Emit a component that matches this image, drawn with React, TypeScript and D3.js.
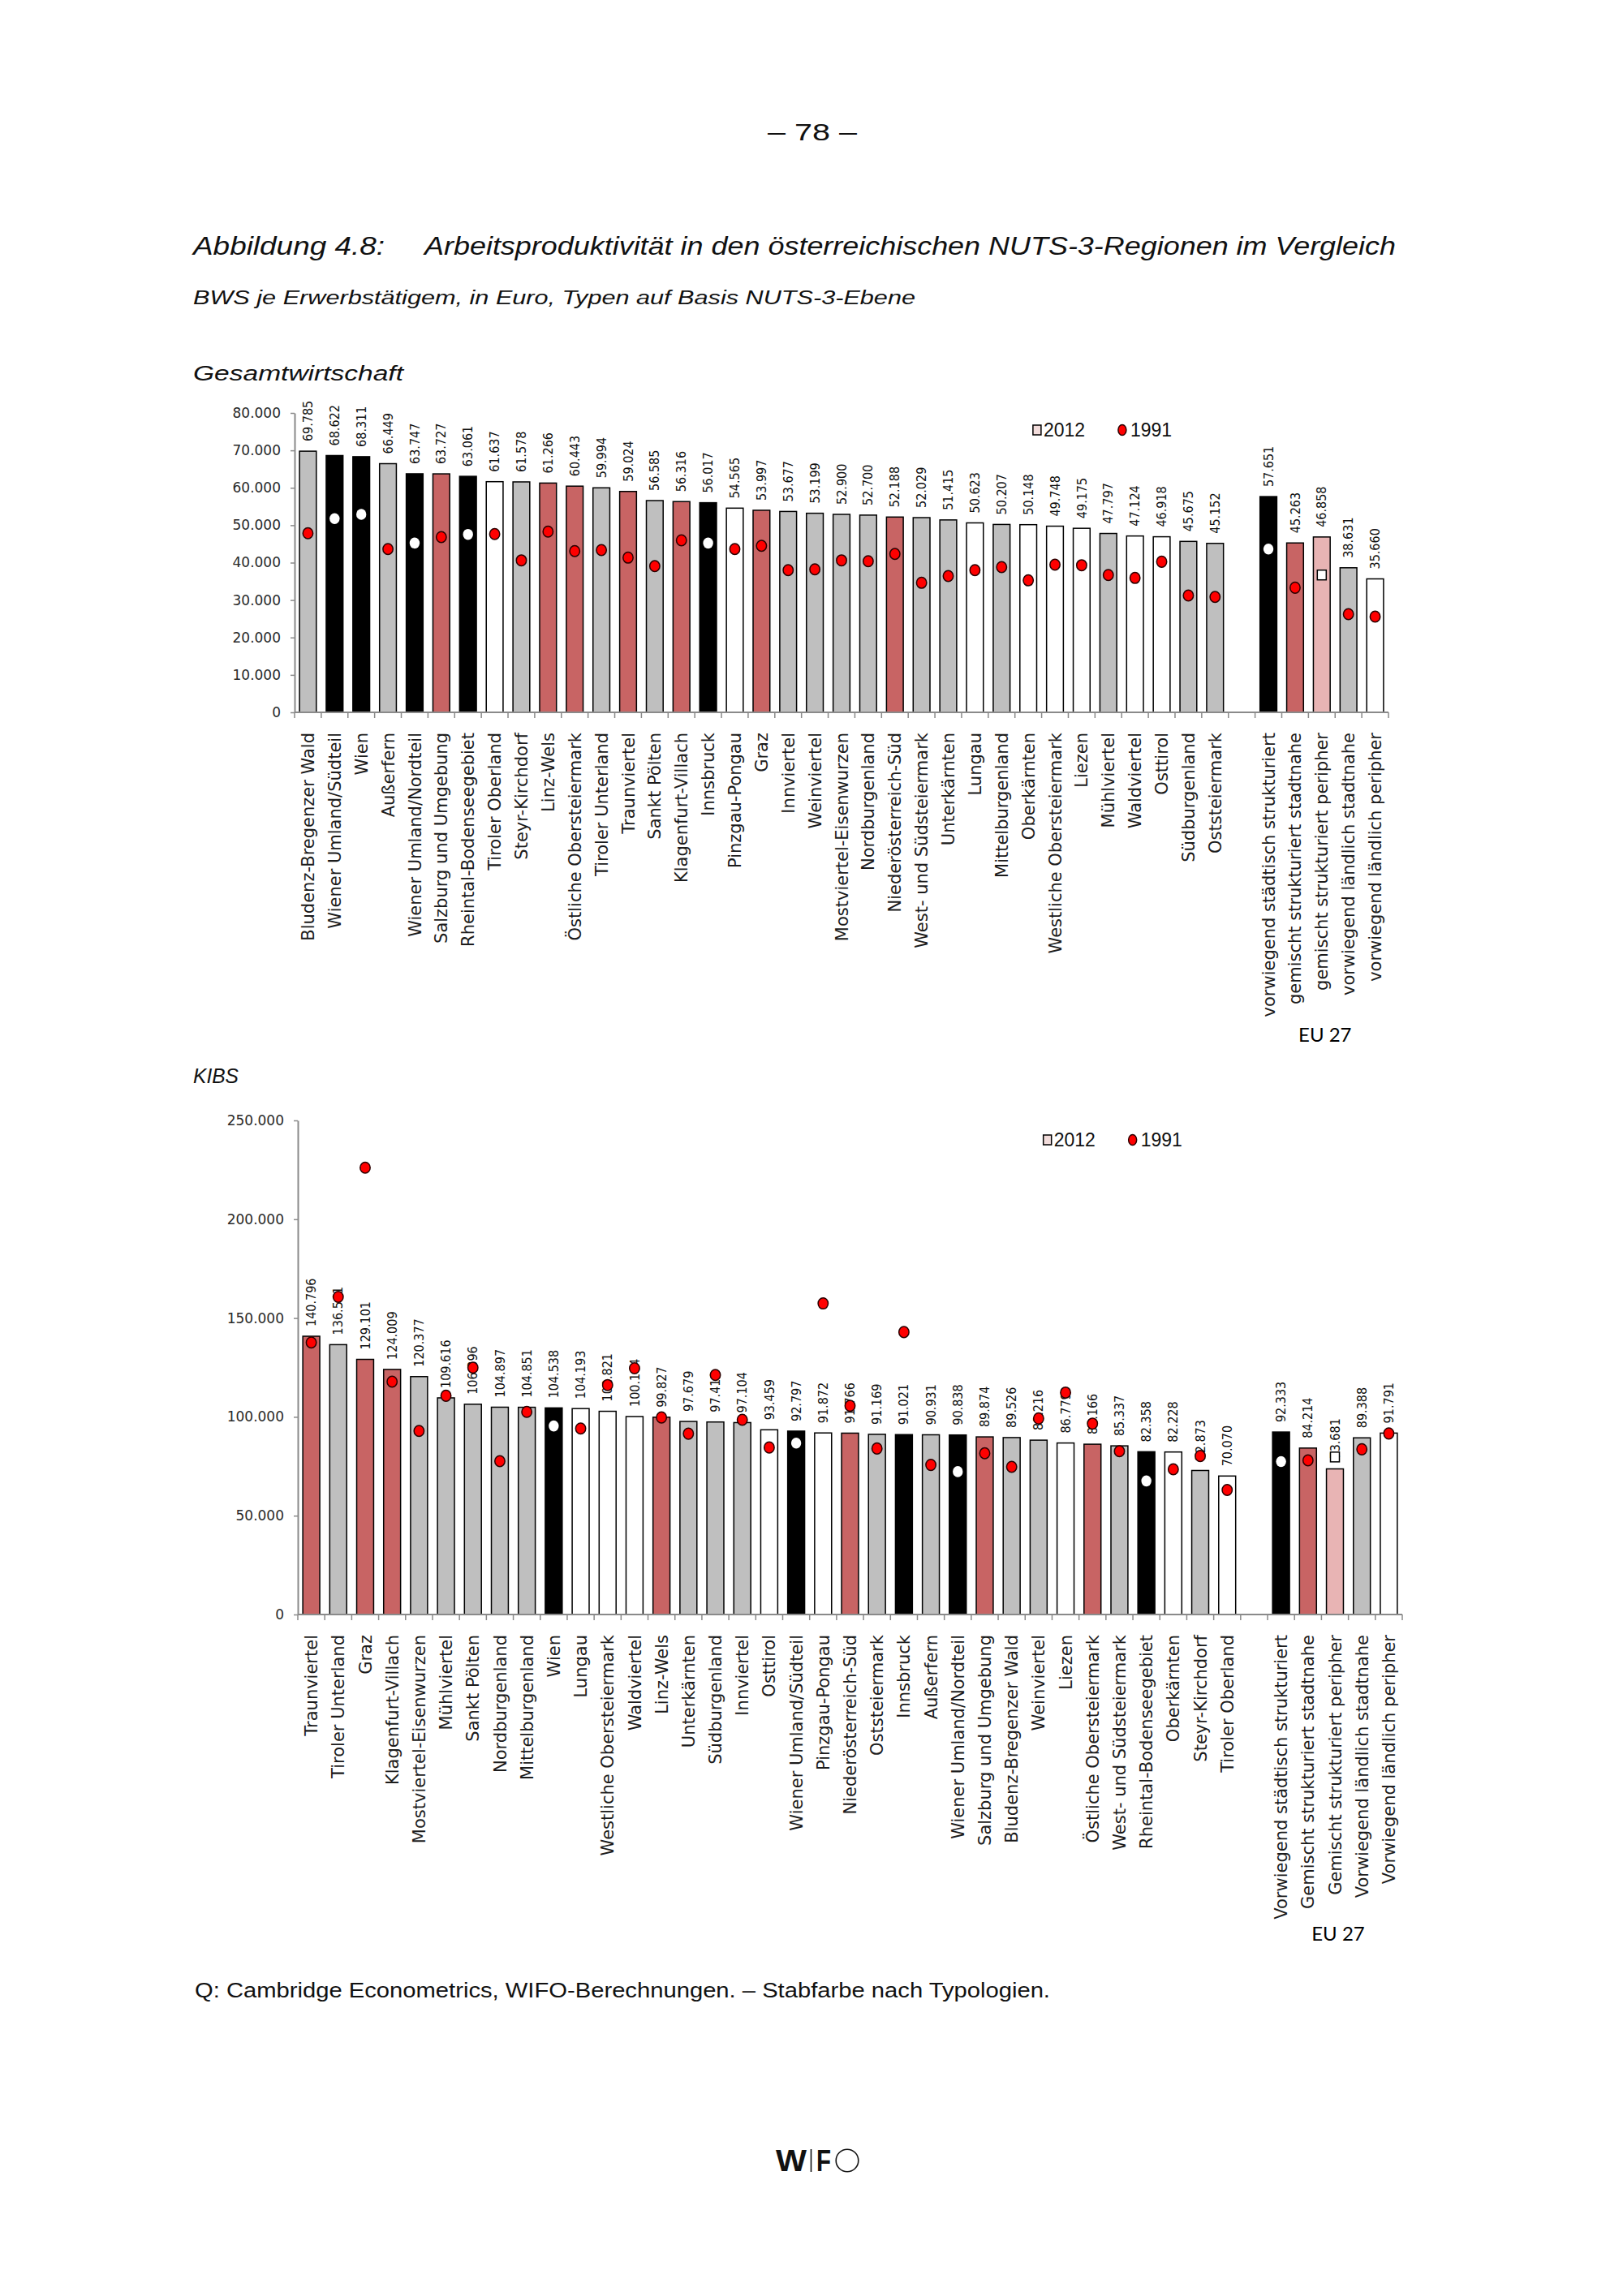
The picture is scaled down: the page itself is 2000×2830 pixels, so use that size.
import React, { useEffect, useRef } from "react";
import * as d3 from "d3";

// bar colours by NUTS-3 typology
const typeColor = {
  s: "#000000", // vorwiegend städtisch
  n: "#C86464", // gemischt strukturiert stadtnahe
  p: "#E8B4B4", // gemischt strukturiert peripher
  l: "#BFBFBF", // vorwiegend ländlich stadtnahe
  r: "#FFFFFF", // vorwiegend ländlich peripher
};

const regionType = {
  "Wien": "s", "Wiener Umland/Südteil": "s", "Wiener Umland/Nordteil": "s", "Rheintal-Bodenseegebiet": "s", "Innsbruck": "s",
  "Salzburg und Umgebung": "n", "Linz-Wels": "n", "Östliche Obersteiermark": "n", "Traunviertel": "n",
  "Klagenfurt-Villach": "n", "Graz": "n", "Niederösterreich-Süd": "n",
  "Bludenz-Bregenzer Wald": "l", "Außerfern": "l", "Steyr-Kirchdorf": "l", "Tiroler Unterland": "l", "Sankt Pölten": "l",
  "Innviertel": "l", "Weinviertel": "l", "Mostviertel-Eisenwurzen": "l", "Nordburgenland": "l",
  "West- und Südsteiermark": "l", "Unterkärnten": "l", "Mittelburgenland": "l", "Mühlviertel": "l",
  "Südburgenland": "l", "Oststeiermark": "l",
  "Tiroler Oberland": "r", "Pinzgau-Pongau": "r", "Lungau": "r", "Oberkärnten": "r",
  "Westliche Obersteiermark": "r", "Liezen": "r", "Waldviertel": "r", "Osttirol": "r",
};

const euTypes = ["s", "n", "p", "l", "r"];

// Gesamtwirtschaft
const gesamtRegions = [
  "Bludenz-Bregenzer Wald", "Wiener Umland/Südteil", "Wien", "Außerfern", "Wiener Umland/Nordteil",
  "Salzburg und Umgebung", "Rheintal-Bodenseegebiet", "Tiroler Oberland", "Steyr-Kirchdorf", "Linz-Wels",
  "Östliche Obersteiermark", "Tiroler Unterland", "Traunviertel", "Sankt Pölten", "Klagenfurt-Villach",
  "Innsbruck", "Pinzgau-Pongau", "Graz", "Innviertel", "Weinviertel", "Mostviertel-Eisenwurzen",
  "Nordburgenland", "Niederösterreich-Süd", "West- und Südsteiermark", "Unterkärnten", "Lungau",
  "Mittelburgenland", "Oberkärnten", "Westliche Obersteiermark", "Liezen", "Mühlviertel", "Waldviertel",
  "Osttirol", "Südburgenland", "Oststeiermark",
];
const gesamt2012 = [
  69785, 68622, 68311, 66449, 63747, 63727, 63061, 61637, 61578, 61266, 60443, 59994, 59024, 56585, 56316,
  56017, 54565, 53997, 53677, 53199, 52900, 52700, 52188, 52029, 51415, 50623, 50207, 50148, 49748, 49175,
  47797, 47124, 46918, 45675, 45152,
];
const gesamt1991 = [
  47850, 51750, 52900, 43640, 45240, 46830, 47550, 47630, 40610, 48280, 43080, 43360, 41340, 39090, 45960,
  45240, 43640, 44510, 38000, 38220, 40610, 40390, 42340, 34620, 36420, 38000, 38800, 35270, 39460, 39310,
  36700, 35920, 40250, 31220, 30850,
];
const gesamtEuLabels = [
  "vorwiegend städtisch strukturiert", "gemischt strukturiert stadtnahe", "gemischt strukturiert peripher",
  "vorwiegend ländlich stadtnahe", "vorwiegend ländlich peripher",
];
const gesamtEu2012 = [57651, 45263, 46858, 38631, 35660];
const gesamtEu1991 = [43640, 33310, 36700, 26230, 25580];
const gesamtTicks = [0, 10000, 20000, 30000, 40000, 50000, 60000, 70000, 80000];

// KIBS
const kibsRegions = [
  "Traunviertel", "Tiroler Unterland", "Graz", "Klagenfurt-Villach", "Mostviertel-Eisenwurzen", "Mühlviertel",
  "Sankt Pölten", "Nordburgenland", "Mittelburgenland", "Wien", "Lungau", "Westliche Obersteiermark",
  "Waldviertel", "Linz-Wels", "Unterkärnten", "Südburgenland", "Innviertel", "Osttirol",
  "Wiener Umland/Südteil", "Pinzgau-Pongau", "Niederösterreich-Süd", "Oststeiermark", "Innsbruck",
  "Außerfern", "Wiener Umland/Nordteil", "Salzburg und Umgebung", "Bludenz-Bregenzer Wald", "Weinviertel",
  "Liezen", "Östliche Obersteiermark", "West- und Südsteiermark", "Rheintal-Bodenseegebiet", "Oberkärnten",
  "Steyr-Kirchdorf", "Tiroler Oberland",
];
const kibs2012 = [
  140796, 136541, 129101, 124009, 120377, 109616, 106396, 104897, 104851, 104538, 104193, 102821, 100164,
  99827, 97679, 97410, 97104, 93459, 92797, 91872, 91766, 91169, 91021, 90931, 90838, 89874, 89526, 88216,
  86779, 86166, 85337, 82358, 82228, 72873, 70070,
];
const kibs1991 = [
  137600, 160700, 226100, 117800, 92900, 110700, 124900, 77600, 102500, 95400, 94100, 116100, 124600,
  99700, 91500, 121200, 98500, 84500, 86700, 157400, 105600, 84000, 142900, 75700, 72300, 81600, 74700,
  99200, 112300, 96600, 82600, 67600, 73500, 80200, 63000,
];
const kibsEuLabels = [
  "Vorwiegend städtisch strukturiert", "Gemischt strukturiert stadtnahe", "Gemischt strukturiert peripher",
  "Vorwiegend ländlich stadtnahe", "Vorwiegend ländlich peripher",
];
const kibsEu2012 = [92333, 84214, 73681, 89388, 91791];
const kibsEu1991 = [77400, 78000, 79700, 83600, 91600];
const kibsTicks = [0, 50000, 100000, 150000, 200000, 250000];

const fmt = d3.formatLocale({ decimal: ",", thousands: ".", grouping: [3], currency: ["", ""] }).format(",d");

const axisColor = "#8a8a8a";
const sansFont = "'DejaVu Sans', sans-serif";
const narrowFont = "'Liberation Sans Narrow', 'DejaVu Sans Condensed', sans-serif";
const titleFont = "'Liberation Sans', Arial, sans-serif";

function drawChart(svg, cfg) {
  const { regions, v2012, v1991, euLabels, eu2012, eu1991, ticks, max, x0, x1, yTop, yBottom, legendY, euY } = cfg;
  const g = svg.append("g");

  const items = regions.map((name, i) => ({ slot: i, name, type: regionType[name], v: v2012[i], old: v1991[i] }));
  euLabels.forEach((name, j) =>
    items.push({ slot: regions.length + 1 + j, name, type: euTypes[j], v: eu2012[j], old: eu1991[j] })
  );
  const nSlots = regions.length + 1 + euLabels.length;

  const x = d3.scaleBand().domain(d3.range(nSlots)).range([x0, x1]).paddingInner(0.37).paddingOuter(0.185);
  const y = d3.scaleLinear().domain([0, max]).range([yBottom, yTop]);
  const cx = (d) => x(d.slot) + x.bandwidth() / 2;

  // y axis
  const ga = g
    .append("g")
    .attr("transform", `translate(${x0},0)`)
    .call(d3.axisLeft(y).tickValues(ticks).tickSize(5).tickSizeOuter(0).tickPadding(12).tickFormat((d) => fmt(d)));
  ga.select(".domain").attr("stroke", axisColor).attr("stroke-width", 2);
  ga.selectAll(".tick line").attr("stroke", axisColor).attr("stroke-width", 1.5);
  ga.selectAll(".tick text").attr("font-family", sansFont).attr("font-size", 17).attr("fill", "#2a2a2a");

  // bars
  g.selectAll("rect.bar")
    .data(items)
    .enter()
    .append("rect")
    .attr("x", (d) => x(d.slot))
    .attr("width", x.bandwidth())
    .attr("y", (d) => y(d.v))
    .attr("height", (d) => yBottom - y(d.v))
    .attr("fill", (d) => typeColor[d.type])
    .attr("stroke", "#000")
    .attr("stroke-width", 1.5);

  // x axis with ticks at slot boundaries
  g.append("line")
    .attr("x1", x0).attr("x2", x1).attr("y1", yBottom).attr("y2", yBottom)
    .attr("stroke", axisColor).attr("stroke-width", 2);
  g.selectAll("line.xt")
    .data(d3.range(nSlots + 1))
    .enter()
    .append("line")
    .attr("x1", (i) => x0 + i * x.step()).attr("x2", (i) => x0 + i * x.step())
    .attr("y1", yBottom).attr("y2", yBottom + 7)
    .attr("stroke", axisColor).attr("stroke-width", 1.5);

  // value labels
  g.selectAll("text.val")
    .data(items)
    .enter()
    .append("text")
    .attr("transform", (d) => `translate(${cx(d)},${y(d.v) - 12}) rotate(-90)`)
    .attr("dy", "0.35em")
    .attr("font-family", narrowFont)
    .attr("font-size", 16)
    .attr("fill", "#111")
    .text((d) => fmt(d.v));

  // 1991 markers
  const dots = items.filter((d) => d.type !== "p");
  g.selectAll("ellipse.old")
    .data(dots)
    .enter()
    .append("ellipse")
    .attr("cx", cx)
    .attr("cy", (d) => y(d.old))
    .attr("rx", 6.2)
    .attr("ry", 6.8)
    .attr("fill", (d) => (d.type === "s" && d.old < d.v ? "#fff" : "#FF0000"))
    .attr("stroke", (d) => (d.type === "s" && d.old < d.v ? "none" : "#2a0000"))
    .attr("stroke-width", 1.5);
  g.selectAll("rect.old")
    .data(items.filter((d) => d.type === "p"))
    .enter()
    .append("rect")
    .attr("x", (d) => cx(d) - 5.5)
    .attr("y", (d) => y(d.old) - 6)
    .attr("width", 11)
    .attr("height", 12)
    .attr("fill", "#fff")
    .attr("stroke", "#000")
    .attr("stroke-width", 1.5);

  // category labels
  g.selectAll("text.cat")
    .data(items)
    .enter()
    .append("text")
    .attr("transform", (d) => `translate(${cx(d)},${yBottom + 25}) rotate(-90)`)
    .attr("dy", "0.36em")
    .attr("text-anchor", "end")
    .attr("font-family", sansFont)
    .attr("font-size", 21)
    .attr("fill", "#1c1c1c")
    .text((d) => d.name);

  // EU 27 group label
  const euMid = (x(regions.length + 1) + x(nSlots - 1) + x.bandwidth()) / 2;
  g.append("text")
    .attr("x", euMid + 4)
    .attr("y", euY)
    .attr("text-anchor", "middle")
    .attr("font-family", "Lato, 'Open Sans', sans-serif")
    .attr("font-size", 24)
    .attr("fill", "#000")
    .text("EU 27");

  // legend
  const lx = x0 + (x1 - x0) * 0.675;
  g.append("rect")
    .attr("x", lx).attr("y", legendY - 6).attr("width", 10).attr("height", 12)
    .attr("fill", "#F2DCDB").attr("stroke", "#000").attr("stroke-width", 1.5);
  g.append("text")
    .attr("x", lx + 13).attr("y", legendY + 8)
    .attr("font-family", titleFont).attr("font-size", 23).attr("fill", "#111")
    .text("2012");
  g.append("ellipse")
    .attr("cx", lx + 110).attr("cy", legendY).attr("rx", 5).attr("ry", 6.5)
    .attr("fill", "#FF0000").attr("stroke", "#2a0000").attr("stroke-width", 1.5);
  g.append("text")
    .attr("x", lx + 120).attr("y", legendY + 8)
    .attr("font-family", titleFont).attr("font-size", 23).attr("fill", "#111")
    .text("1991");
}

const App = () => {
  const ref = useRef(null);

  useEffect(() => {
    const svg = d3.select(ref.current);
    svg.selectAll("*").remove();

    svg.append("rect").attr("width", 2000).attr("height", 2830).attr("fill", "#fff");

    const text = (str, x, y, size, opts = {}) => {
      const t = svg
        .append("text")
        .attr("x", x)
        .attr("y", y)
        .attr("font-family", titleFont)
        .attr("font-size", size)
        .attr("font-style", opts.italic ? "italic" : "normal")
        .attr("text-anchor", opts.anchor || "start")
        .attr("fill", "#111")
        .text(str);
      if (opts.len) t.attr("textLength", opts.len).attr("lengthAdjust", "spacingAndGlyphs");
      return t;
    };

    text("– 78 –", 1001, 173, 29, { anchor: "middle", len: 110 });
    text("Abbildung 4.8:", 238, 314, 31, { italic: true, len: 236 });
    text("Arbeitsproduktivität in den österreichischen NUTS-3-Regionen im Vergleich", 523, 314, 31, { italic: true, len: 1197 });
    text("BWS je Erwerbstätigem, in Euro, Typen auf Basis NUTS-3-Ebene", 238, 375, 23, { italic: true, len: 890 });
    text("Gesamtwirtschaft", 238, 469, 26, { italic: true, len: 259 });
    text("KIBS", 238, 1335, 26, { italic: true, len: 56 });
    text("Q: Cambridge Econometrics, WIFO-Berechnungen. – Stabfarbe nach Typologien.", 240, 2462, 25, { len: 1054 });

    drawChart(svg, {
      regions: gesamtRegions, v2012: gesamt2012, v1991: gesamt1991,
      euLabels: gesamtEuLabels, eu2012: gesamtEu2012, eu1991: gesamtEu1991,
      ticks: gesamtTicks, max: 80000,
      x0: 363, x1: 1711, yTop: 509, yBottom: 878, legendY: 530, euY: 1284,
    });
    drawChart(svg, {
      regions: kibsRegions, v2012: kibs2012, v1991: kibs1991,
      euLabels: kibsEuLabels, eu2012: kibsEu2012, eu1991: kibsEu1991,
      ticks: kibsTicks, max: 250000,
      x0: 367, x1: 1728, yTop: 1381, yBottom: 1990, legendY: 1405, euY: 2392,
    });

    // WIFO logo
    const logo = svg.append("g");
    logo.append("text").attr("x", 956).attr("y", 2676).attr("font-family", titleFont).attr("font-weight", "bold")
      .attr("font-size", 36).attr("textLength", 38).attr("lengthAdjust", "spacingAndGlyphs").attr("fill", "#111").text("W");
    logo.append("line").attr("x1", 999.5).attr("x2", 999.5).attr("y1", 2649).attr("y2", 2677)
      .attr("stroke", "#111").attr("stroke-width", 1.6);
    logo.append("text").attr("x", 1006).attr("y", 2676).attr("font-family", titleFont).attr("font-weight", "bold")
      .attr("font-size", 36).attr("textLength", 18).attr("lengthAdjust", "spacingAndGlyphs").attr("fill", "#111").text("F");
    logo.append("circle").attr("cx", 1044).attr("cy", 2663).attr("r", 13.8)
      .attr("fill", "none").attr("stroke", "#111").attr("stroke-width", 1.6);
  }, []);

  return (
    <div style={{ position: "absolute", left: 0, top: 0 }}>
      <svg ref={ref} width={2000} height={2830} style={{ display: "block" }}></svg>
    </div>
  );
};

export default App;
